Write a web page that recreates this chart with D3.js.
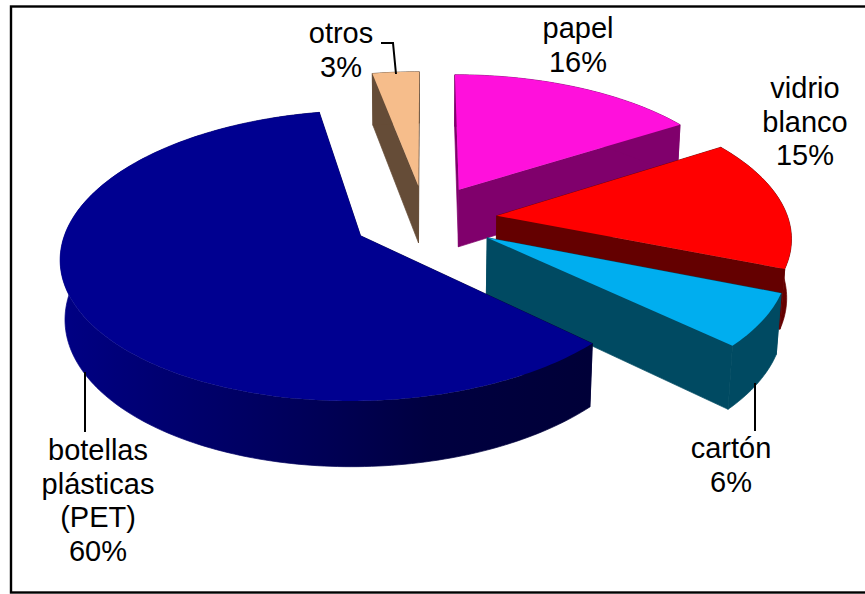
<!DOCTYPE html>
<html><head><meta charset="utf-8">
<script src="https://cdn.jsdelivr.net/npm/d3@7"></script>
<style>html,body{margin:0;padding:0;background:#fff;overflow:hidden}svg{display:block}
text{font-family:"Liberation Sans",Arial,sans-serif;font-size:29px;fill:#000;text-anchor:middle}</style>
</head><body><svg id="c" width="865" height="594"></svg>
<script>
const categories = ["papel","vidrio blanco","cartón","botellas plásticas (PET)","otros"];
const values = [16,15,6,60,3];
const topColors = ["#FF10DC","#FF0000","#00AEEF","#000090","#F6BD8B"];
const sideColors = ["#80006C","#640000","#004A62","url(#blueSide)","#654C37"];
const drawOrder = [0,4,1,2,3];
const labelLines = [["papel","16%"],["vidrio","blanco","15%"],["cartón","6%"],["botellas","plásticas","(PET)","60%"],["otros","3%"]];
const labelAnchors = [[578,38],[805,98],[731,458],[98,460],[341,43]];
const leaders = [null,null,[[755,383],[755,431]],[[85,372],[85,432]],[[381,43],[393,43],[396,74]]];

const cx=425, cy=219, rx=291.5, ry=138, depth=59, p=0.135, q=0.013, explode=0.248, lineH=33.6;
const svg=d3.select("#c");
const defs=svg.append("defs");
const grad=defs.append("linearGradient").attr("id","blueSide").attr("gradientUnits","userSpaceOnUse")
  .attr("x1",60).attr("x2",590).attr("y1",0).attr("y2",0);
[[0,"#000084"],[.2,"#000070"],[.45,"#00005A"],[.7,"#000040"],[1,"#000038"]].forEach(s=>grad.append("stop").attr("offset",s[0]).attr("stop-color",s[1]));

svg.append("rect").attr("x",11).attr("y",6.5).attr("width",880).attr("height",586).attr("fill","#fff").attr("stroke","#000").attr("stroke-width",2.4);

function proj(u,v,z){const w=1-p*v+q*z;return [cx+rx*u/w,cy+(ry*v+depth*z)/w];}
const arcs=d3.pie().sort(null).value(d=>d)(values);
const line=d3.line();
function rim(a0,a1){const n=Math.max(4,Math.ceil((a1-a0)/0.02));return d3.range(n+1).map(i=>a0+(a1-a0)*i/n);}

drawOrder.forEach(i=>{
  const a=arcs[i], mid=(a.startAngle+a.endAngle)/2;
  const ox=explode*Math.sin(mid), oy=-explode*Math.cos(mid);
  const P=(ang,r,z)=>proj(ox+r*Math.sin(ang),oy-r*Math.cos(ang),z);
  const A=rim(a.startAngle,a.endAngle);
  const g=svg.append("g");
  const side=sideColors[i];
  const cut=ang=>[P(ang,0,0),P(ang,1,0),P(ang,1,1),P(ang,0,1)];
  const face=(pts,col)=>g.append("path").attr("d",line(pts)+"Z").attr("fill",col).attr("stroke",col).attr("stroke-width",0.7).attr("stroke-linejoin","round");
  face(cut(a.startAngle),side);
  face(cut(a.endAngle),side);
  face(A.map(t=>P(t,1,0)).concat(A.slice().reverse().map(t=>P(t,1,1))),side);
  g.append("path").attr("d",line([P(0,0,0)].concat(A.map(t=>P(t,1,0))))+"Z").attr("fill",topColors[i]);
});

leaders.forEach(l=>{if(l)svg.append("path").attr("d",line(l)).attr("fill","none").attr("stroke","#000").attr("stroke-width",2);});
labelLines.forEach((ls,i)=>{
  const t=svg.append("text");
  ls.forEach((s,j)=>t.append("tspan").attr("x",labelAnchors[i][0]).attr("y",labelAnchors[i][1]+j*lineH).text(s));
});
</script></body></html>
